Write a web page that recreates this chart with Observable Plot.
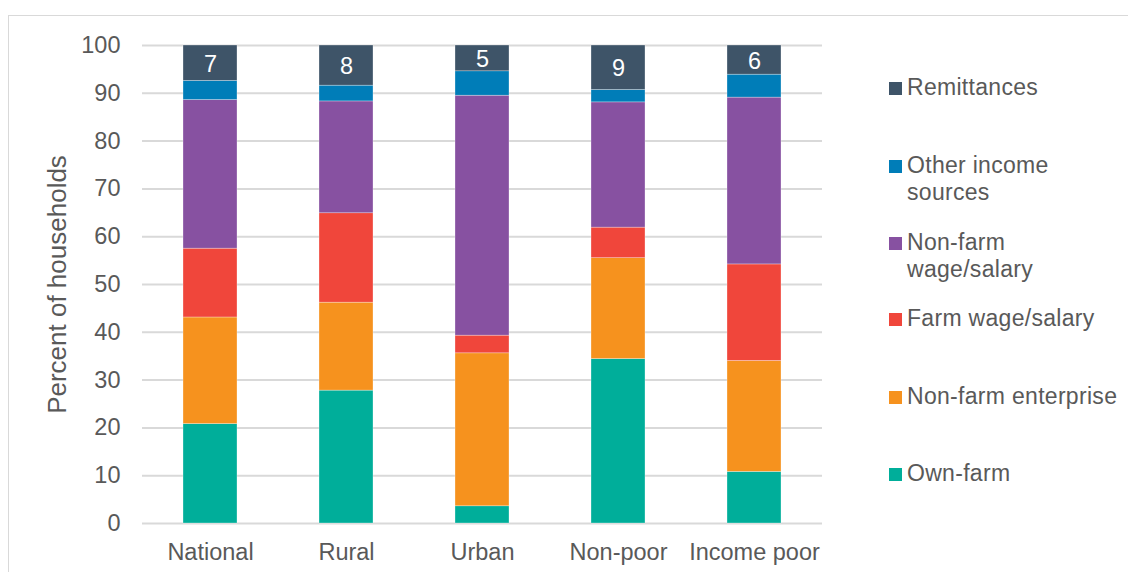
<!DOCTYPE html>
<html>
<head>
<meta charset="utf-8">
<script src="https://cdn.jsdelivr.net/npm/d3@7"></script>
<script src="https://cdn.jsdelivr.net/npm/@observablehq/plot@0.6"></script>
<style>
  html, body { margin: 0; padding: 0; background: #fff; }
  #wrap { position: relative; width: 1128px; height: 572px; overflow: hidden; font-family: "Liberation Sans", Arial, sans-serif; }
  #frame { position: absolute; left: 8px; top: 15px; width: 1140px; height: 600px; border: 1.5px solid #d9d9d9; box-sizing: border-box; }
  #chart { position: absolute; left: 0; top: 0; }
  .legend-item { position: absolute; left: 889px; display: flex; align-items: flex-start; font-size: 23px; letter-spacing: 0.3px; color: #595959; line-height: 27px; }
  .legend-item .sw { width: 13px; height: 13px; margin-top: 8px; margin-right: 5px; flex: none; }
</style>
</head>
<body>
<div id="wrap">
  <div id="frame"></div>
  <div id="chart"></div>
  <div id="legend"></div>
</div>
<script>
// Categories (x axis)
const categories = ["National", "Rural", "Urban", "Non-poor", "Income poor"];
// Income sources, bottom to top of stack
const sources = ["Own-farm", "Non-farm enterprise", "Farm wage/salary", "Non-farm wage/salary", "Other income sources", "Remittances"];
const sourceColors = ["#00ae9a", "#f6921e", "#f0463b", "#8751a1", "#007db8", "#3e5468"];

// Series values (percent of households), per category
const ownFarm           = [20.8, 27.8,  3.6, 34.4, 10.8];
const nonFarmEnterprise = [22.3, 18.4, 32.0, 21.1, 23.2];
const farmWage          = [14.4, 18.7,  3.7,  6.4, 20.2];
const nonFarmWage       = [31.1, 23.4, 50.2, 26.2, 34.9];
const otherIncome       = [ 4.0,  3.3,  5.1,  2.6,  4.8];
const remittances       = [ 7.4,  8.4,  5.4,  9.3,  6.1];

const yTicks = [0, 10, 20, 30, 40, 50, 60, 70, 80, 90, 100];

const series = [ownFarm, nonFarmEnterprise, farmWage, nonFarmWage, otherIncome, remittances];
const data = [];
categories.forEach((c, i) => {
  sources.forEach((s, j) => data.push({category: c, source: s, value: series[j][i]}));
});

const textColor = "#595959";
const gridColor = "#d9d9d9";

const chart = Plot.plot({
  width: 1128,
  height: 572,
  marginLeft: 142,
  marginRight: 306,
  marginTop: 45,
  marginBottom: 49,
  style: { fontFamily: "'Liberation Sans', Arial, sans-serif", color: textColor, background: "transparent", overflow: "visible" },
  x: { domain: categories, paddingInner: 0.6, paddingOuter: 0.3, label: null },
  y: { domain: [0, 100], label: null },
  color: { domain: sources, range: sourceColors },
  marks: [
    Plot.ruleY(yTicks, { stroke: gridColor, strokeWidth: 2 }),
    Plot.barY(data, Plot.stackY({
      x: "category", y: "value", z: "source", fill: "source", order: sources,
      stroke: "#ffffff", strokeWidth: 0.6, strokeOpacity: 0.5
    })),
    Plot.text(data, Plot.stackY({
      x: "category", y: "value", z: "source", order: sources,
      text: d => d.source === "Remittances" ? String(Math.round(d.value)) : "",
      fill: "white", fontSize: 23.5, dy: 1
    })),
    Plot.axisY({ ticks: yTicks, tickSize: 0, tickPadding: 22, fontSize: 23.5, label: null }),
    Plot.axisX({ tickSize: 0, tickPadding: 20, fontSize: 23.5, label: null }),
    Plot.text(["Percent of households"], {
      frameAnchor: "left", textAnchor: "middle", dx: -85, rotate: -90,
      fontSize: 26, fill: textColor, text: d => d
    })
  ]
});
document.getElementById("chart").appendChild(chart);

// Legend (HTML, right side)
const legendTops = [74, 152, 229, 305, 383, 460];
const legendLabels = ["Remittances", "Other income<br>sources", "Non-farm<br>wage/salary", "Farm wage/salary", "Non-farm enterprise", "Own-farm"];
const legendColors = ["#3e5468", "#007db8", "#8751a1", "#f0463b", "#f6921e", "#00ae9a"];
const legend = document.getElementById("legend");
legendLabels.forEach((lab, i) => {
  const item = document.createElement("div");
  item.className = "legend-item";
  item.style.top = legendTops[i] + "px";
  item.innerHTML = `<span class="sw" style="background:${legendColors[i]}"></span><span>${lab}</span>`;
  legend.appendChild(item);
});
</script>
</body>
</html>
